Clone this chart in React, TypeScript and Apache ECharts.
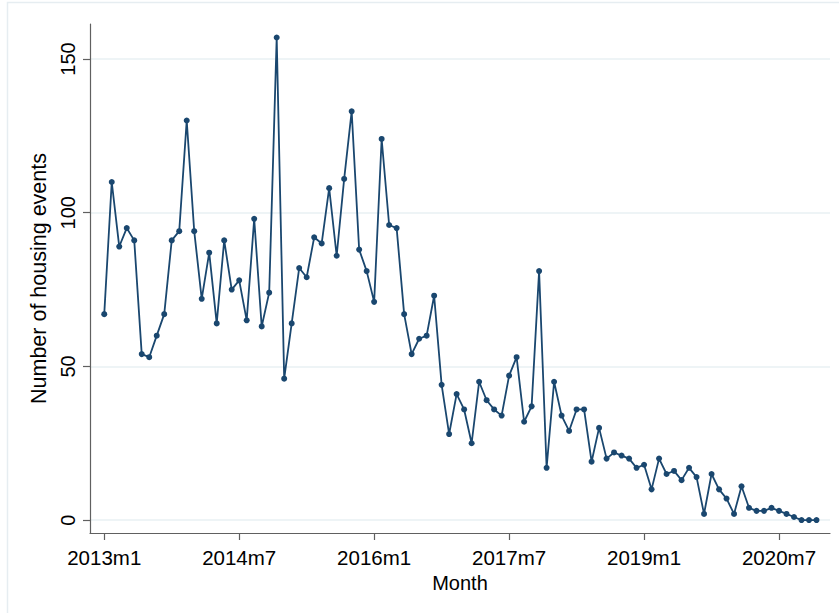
import React, { useEffect, useRef } from "react";
import * as echarts from "echarts";

const START_YEAR = 2013;
const values: number[] = [
  67, 110, 89, 95, 91, 54, 53, 60, 67, 91, 94, 130,
  94, 72, 87, 64, 91, 75, 78, 65, 98, 63, 74, 157,
  46, 64, 82, 79, 92, 90, 108, 86, 111, 133, 88, 81,
  71, 124, 96, 95, 67, 54, 59, 60, 73, 44, 28, 41,
  36, 25, 45, 39, 36, 34, 47, 53, 32, 37, 81, 17,
  45, 34, 29, 36, 36, 19, 30, 20, 22, 21, 20, 17,
  18, 10, 20, 15, 16, 13, 17, 14, 2, 15, 10, 7,
  2, 11, 4, 3, 3, 4, 3, 2, 1, 0, 0, 0,
];
const xTickIndices: number[] = [0, 18, 36, 54, 72, 90];
const yTicks: number[] = [0, 50, 100, 150];

const monthLabel = (i: number) =>
  `${START_YEAR + Math.floor(i / 12)}m${(i % 12) + 1}`;

const FONT = "'Liberation Sans', Arial, sans-serif";

export default function App() {
  const ref = useRef<HTMLDivElement>(null);
  useEffect(() => {
    if (!ref.current) return;
    const chart = echarts.init(ref.current, undefined, { renderer: "svg" });
    const data = values.map((v, i) => [i, v]);
    chart.setOption({
      animation: false,
      backgroundColor: "#ffffff",
      textStyle: { fontFamily: FONT },
      graphic: [
        {
          type: "rect",
          shape: { x: 7.5, y: 2.5, width: 1000, height: 1000 },
          style: { fill: "none", stroke: "#e6edf1", lineWidth: 1.5 },
          silent: true,
          z: -10,
        },
      ],
      grid: { left: 90, right: 9, top: 24, bottom: 80, containLabel: false },
      xAxis: {
        type: "value",
        min: -1.9,
        max: 96.8,
        name: "Month",
        nameLocation: "middle",
        nameGap: 36,
        nameTextStyle: { color: "#000", fontSize: 20, fontFamily: FONT },
        axisLine: { show: true, onZero: false, lineStyle: { color: "#606060", width: 1.2 } },
        axisTick: { show: true, length: 7, customValues: xTickIndices, lineStyle: { color: "#606060", width: 1.2 } },
        axisLabel: {
          customValues: xTickIndices,
          formatter: (v: number) => monthLabel(Math.round(v)),
          color: "#000",
          fontSize: 20.5,
          fontFamily: FONT,
          margin: 14,
        },
        splitLine: { show: false },
      },
      yAxis: {
        type: "value",
        min: -4.2,
        max: 161.4,
        name: "Number of housing events",
        nameLocation: "middle",
        nameGap: 33,
        nameRotate: 90,
        nameTextStyle: { color: "#000", fontSize: 21.5, fontFamily: FONT },
        axisLine: { show: true, onZero: false, lineStyle: { color: "#606060", width: 1.2 } },
        axisTick: { show: true, length: 7, customValues: yTicks, lineStyle: { color: "#606060", width: 1.2 } },
        axisLabel: {
          customValues: yTicks,
          rotate: 90,
          color: "#000",
          fontSize: 20,
          fontFamily: FONT,
          margin: 12,
        },
        splitLine: { show: true, lineStyle: { color: "#e8f0f3", width: 1.5 } },
      },
      series: [
        {
          type: "line",
          data,
          symbol: "circle",
          symbolSize: 6,
          showSymbol: true,
          lineStyle: { color: "#1a476f", width: 1.8 },
          itemStyle: { color: "#1a476f" },
          emphasis: { disabled: true },
        },
      ],
    });
    return () => chart.dispose();
  }, []);
  return (
    <div
      ref={ref}
      style={{ position: "fixed", left: 0, top: 0, width: 839, height: 613 }}
    />
  );
}
